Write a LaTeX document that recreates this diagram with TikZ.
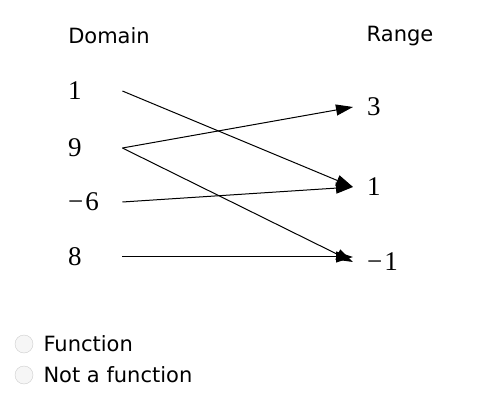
\documentclass[tikz,border=0pt]{standalone}
\usepackage{fontspec}
\setmainfont{DejaVu Sans}
\newfontfamily\numfont{Liberation Serif}
\usetikzlibrary{arrows.meta}
\begin{document}
\begin{tikzpicture}[x=1pt,y=-1pt,
        lbl/.style={font=\fontsize{21}{24}\selectfont},
        num/.style={font=\numfont\fontsize{27}{30}\selectfont, inner ysep=0pt},
        map/.style={-{Triangle[length=17pt,width=11pt]}, line width=1pt},
        radio/.style={circle, draw=gray!40, fill=gray!7, minimum size=18pt, inner sep=0pt}]
    \useasboundingbox (0,0) rectangle (490,414);
    \def\leftX{68}
    \def\rightX{353}
    \def\neg{−\kern2pt}

    \node[lbl] (dom) at (109,36) {Domain};
    \node[lbl] (ran) at (400,36) {Range};

    \foreach \v/\y [count=\i] in {1/91, 9/148, \neg6/202, 8/257} {
        \node[num, anchor=west, inner xsep=0pt, text width=54pt] (d\i) at (\leftX,\y) {\v};
    }
    \foreach \v/\y [count=\i] in {3/107, 1/187, \neg1/262} {
        \node[num, anchor=west, inner xsep=14pt] (r\i) at (\rightX,\y) {\v};
    }

    \draw[map] (d1.east) -- (r2.west);
    \draw[map] (d2.east) -- (r1.west);
    \draw[map] (d2.east) -- (r3.west);
    \draw[map] (d3.east) -- (r2.west);
    \draw[map] (d4.east) -- (d4.east -| r3.west);

    \node[radio] (o1) at (24,344) {};
    \node[lbl, anchor=west] (f1) at (40,344) {Function};
    \node[radio] (o2) at (24,375) {};
    \node[lbl, anchor=west] (f2) at (40,375) {Not a function};
\end{tikzpicture}
\end{document}
